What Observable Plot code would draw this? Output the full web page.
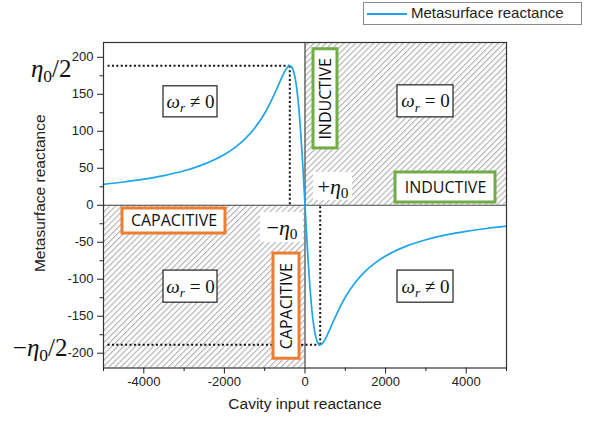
<!DOCTYPE html>
<html>
<head>
<meta charset="utf-8">
<script src="https://cdn.jsdelivr.net/npm/d3@7"></script>
<script src="https://cdn.jsdelivr.net/npm/@observablehq/plot@0.6"></script>
<style>
  body { margin: 0; background: #fff; }
  #wrap { position: relative; width: 601px; height: 425px; font-family: "Liberation Sans", Arial, sans-serif; }
  #legend { position: absolute; left: 363px; top: 2px; width: 219px; height: 23px; border: 1px solid #8a8a8a; background: #fff; box-sizing: border-box; }
  #legend .sw { position: absolute; left: 3px; top: 10px; width: 40px; height: 2px; background: #1fa5ea; }
  #legend .lb { position: absolute; left: 47px; top: 1px; font-size: 15px; color: #222; white-space: nowrap; }
</style>
</head>
<body>
<div id="wrap">
  <div id="legend"><div class="sw"></div><div class="lb">Metasurface reactance</div></div>
</div>
<script>
// ---- data ----
const xLeft = [-5000,-4500,-4000,-3500,-3000,-2500,-2000,-1750,-1500,-1250,-1000,-900,-800,-700,-600,-500,-450,-400,-377,-350,-300,-250,-200,-175,-150,-125,-100,-75,-50,-25,0];
const yLeft = [28.3,31.4,35.2,40.1,46.6,55.6,68.6,77.6,89.1,104.2,124.4,134.4,145.4,157.4,169.8,181.2,185.6,188.2,188.5,188.0,183.7,173.6,156.1,144.0,129.5,112.6,93.4,72.1,49.1,24.9,0];
const xRight = [25,50,75,100,125,150,175,200,250,300,350,377,400,450,500,600,700,800,900,1000,1250,1500,1750,2000,2500,3000,3500,4000,4500,5000];
const yRight = [-24.9,-49.1,-72.1,-93.4,-112.6,-129.5,-144.0,-156.1,-173.6,-183.7,-188.0,-188.5,-188.2,-185.6,-181.2,-169.8,-157.4,-145.4,-134.4,-124.4,-104.2,-89.1,-77.6,-68.6,-55.6,-46.6,-40.1,-35.2,-31.4,-28.3];

const xMajor = [-4000,-2000,0,2000,4000];
const xMinor = [-5000,-3000,-1000,1000,3000,5000];
const yMajor = [-200,-150,-100,-50,0,50,100,150,200];
const yMinor = [-175,-125,-75,-25,25,75,125,175];

const eta0 = 377;
const etaHalf = 188.5;

const curve = xLeft.map((x,i)=>({x, y:yLeft[i]})).concat(xRight.map((x,i)=>({x, y:yRight[i]})));

// shaded quadrants
const quadX1 = [0, -5000], quadX2 = [5000, 0], quadY1 = [0, -220], quadY2 = [220, 0];
const quads = quadX1.map((d,i)=>({x1:d, x2:quadX2[i], y1:quadY1[i], y2:quadY2[i]}));

// dotted guides
const guides = [
  {x1:-4900, y1: etaHalf, x2:-eta0, y2: etaHalf},
  {x1:-eta0, y1: etaHalf, x2:-eta0, y2: 0},
  {x1:-4900, y1:-etaHalf, x2: eta0, y2:-etaHalf},
  {x1: eta0, y1:-etaHalf, x2: eta0, y2: 0}
];

// annotation boxes
const omegaLabels = ["ωr ≠ 0","ωr = 0","ωr = 0","ωr ≠ 0"];
const omegaX1 = [-3511, 2295, -3511, 2295], omegaX2 = [-2171, 3685, -2171, 3685];
const omegaY1 = [160.8, 162.1, -88.3, -88.3], omegaY2 = [118.8, 118.8, -131.7, -131.7];
const omegaBoxes = omegaLabels.map((t,i)=>({t, x1:omegaX1[i], x2:omegaX2[i], y1:omegaY1[i], y2:omegaY2[i]}));

const regionLabels = ["INDUCTIVE","INDUCTIVE","CAPACITIVE","CAPACITIVE"];
const regionColor = ["#70ad47","#70ad47","#ed7d31","#ed7d31"];
const regionRot = [-90, 0, 0, -90];
const regionX1 = [211, 2246, -4529, -782], regionX2 = [806, 4727, -1973, -136];
const regionY1 = [210.9, 44.3, -4.4, -65.3], regionY2 = [76.8, 3.7, -38.2, -207.5];
const regions = regionLabels.map((t,i)=>({t, c:regionColor[i], r:regionRot[i], x1:regionX1[i], x2:regionX2[i], y1:regionY1[i], y2:regionY2[i]}));

const etaLabels = ["+η0","−η0"];
const etaX1 = [211, -1104], etaX2 = [1179, -37], etaY1 = [44.3, -9.8], etaY2 = [6.4, -50.4];
const etaBoxes = etaLabels.map((t,i)=>({t, x1:etaX1[i], x2:etaX2[i], y1:etaY1[i], y2:etaY2[i]}));

const mid = d => (d.x1 + d.x2) / 2;
const midY = d => (d.y1 + d.y2) / 2;
const serif = "Liberation Serif, DejaVu Serif, serif";
const sans = "Open Sans, Liberation Sans, sans-serif";
const fmt = d => d < 0 ? "-" + Math.abs(d) : String(d);

const plot = Plot.plot({
  width: 601, height: 425,
  marginLeft: 103, marginRight: 95, marginTop: 42, marginBottom: 57.5,
  style: {fontFamily: "Liberation Sans, Arial, sans-serif", fontSize: "13px", color: "#222", background: "transparent"},
  x: {domain: [-5000, 5000]},
  y: {domain: [-220, 220]},
  marks: [
    Plot.rect(quads, {x1:"x1", x2:"x2", y1:"y1", y2:"y2", fill:"url(#hatch)"}),
    Plot.ruleY([0], {stroke:"#444", strokeWidth:1.2}),
    Plot.ruleX([0], {stroke:"#444", strokeWidth:1.2}),
    Plot.link(guides, {x1:"x1", y1:"y1", x2:"x2", y2:"y2", stroke:"#111", strokeWidth:2, strokeDasharray:"2,2.4"}),
    Plot.line(curve, {x:"x", y:"y", stroke:"#1fa5ea", strokeWidth:1.7, curve:"monotone-x"}),
    Plot.rect(etaBoxes, {x1:"x1", x2:"x2", y1:"y1", y2:"y2", fill:"white"}),
    Plot.text(etaBoxes, {x: mid, y: midY, text:"t", fontFamily: serif, fontSize: 22, fill:"#111"}),
    Plot.rect(omegaBoxes, {x1:"x1", x2:"x2", y1:"y1", y2:"y2", fill:"white", stroke:"#222", strokeWidth:1.2}),
    Plot.text(omegaBoxes, {x: mid, y: midY, text:"t", fontFamily: serif, fontSize: 19, fill:"#111"}),
    Plot.rect(regions, {x1:"x1", x2:"x2", y1:"y1", y2:"y2", fill:"white", stroke:"c", strokeWidth:3}),
    Plot.text(regions, {x: mid, y: midY, text:"t", rotate:"r", fontFamily: sans, fontSize: 16, fill:"#111"}),
    Plot.text(["η0/2"], {x: -5000, y: etaHalf, dx: -32, dy: 3, textAnchor:"end", fontFamily: serif, fontSize: 25, fill:"#111"}),
    Plot.text(["−η0/2"], {x: -5000, y: -etaHalf, dx: -36, dy: 3, textAnchor:"end", fontFamily: serif, fontSize: 25, fill:"#111"}),
    Plot.frame({stroke:"#333", strokeWidth:1.2}),
    Plot.axisX({ticks: xMajor, tickSize: 6, tickPadding: 3, tickFormat: fmt, label: null, fontSize: 13}),
    Plot.axisX({ticks: xMinor, tickSize: 3.5, text: null, label: null}),
    Plot.axisY({ticks: yMajor, tickSize: 6, tickPadding: 4, tickFormat: fmt, label: null, fontSize: 13}),
    Plot.axisY({ticks: yMinor, tickSize: 3.5, text: null, label: null}),
    Plot.text(["Cavity input reactance"], {frameAnchor:"bottom", dy: 41, fontSize: 15.5, fill:"#222"}),
    Plot.text(["Metasurface reactance"], {frameAnchor:"left", dx: -63, dy: -12, rotate: -90, textAnchor:"middle", fontSize: 15.5, fill:"#222"})
  ]
});

// hatch pattern definition
const svg = d3.select(plot);
const defs = svg.insert("defs", ":first-child");
const pat = defs.append("pattern").attr("id","hatch").attr("patternUnits","userSpaceOnUse")
  .attr("width",4.2).attr("height",4.2).attr("patternTransform","rotate(45)");
pat.append("rect").attr("width",4.2).attr("height",4.2).attr("fill","white");
pat.append("line").attr("x1",0.6).attr("y1",0).attr("x2",0.6).attr("y2",4.2).attr("stroke","#a8a8a8").attr("stroke-width",1);

// math-style markup for the Greek labels
const it = s => `<tspan font-style="italic">${s}</tspan>`;
const sub0 = `<tspan font-size="0.7em" dy="0.32em">0</tspan>`;
const markup = {
  "ωr ≠ 0": it("ω") + `<tspan font-style="italic" font-size="0.7em" dy="0.32em">r</tspan><tspan dy="-0.224em"> ≠ 0</tspan>`,
  "ωr = 0": it("ω") + `<tspan font-style="italic" font-size="0.7em" dy="0.32em">r</tspan><tspan dy="-0.224em"> = 0</tspan>`,
  "+η0": "+" + it("η") + sub0,
  "−η0": "−" + it("η") + sub0,
  "η0/2": it("η") + sub0 + `<tspan dy="-0.224em">/2</tspan>`,
  "−η0/2": "−" + it("η") + sub0 + `<tspan dy="-0.224em">/2</tspan>`
};
svg.selectAll("text").each(function() {
  const t = this.textContent;
  if (markup[t]) this.innerHTML = markup[t];
});

document.getElementById("wrap").prepend(plot);
plot.style.position = "absolute"; plot.style.left = "0"; plot.style.top = "0";
document.getElementById("legend").style.zIndex = 2;
</script>
</body>
</html>
